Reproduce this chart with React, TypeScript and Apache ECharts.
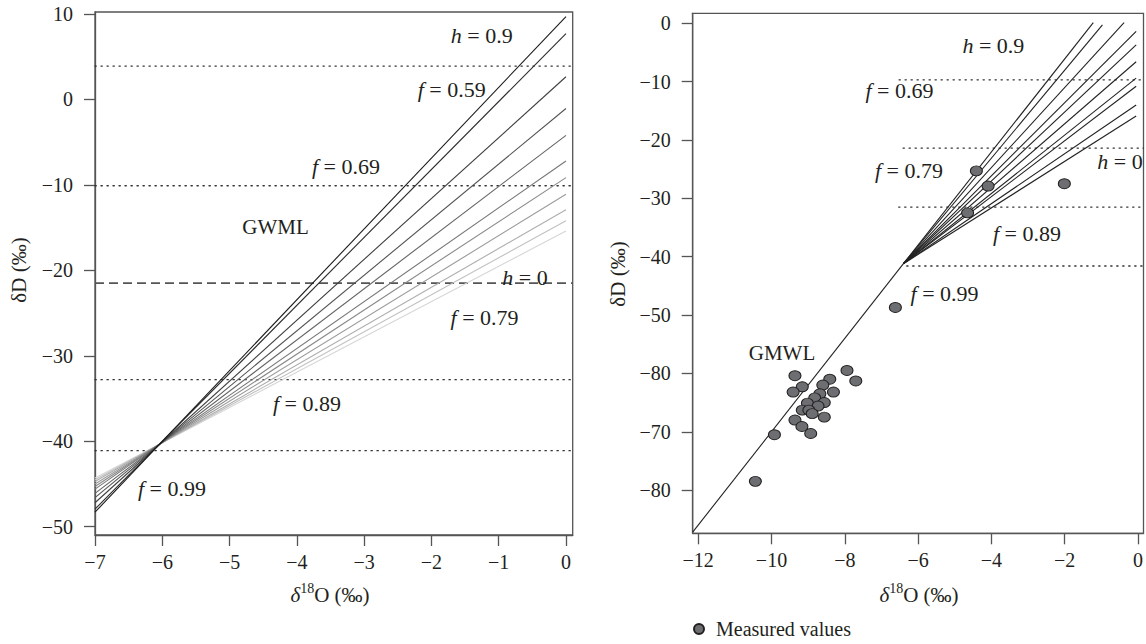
import React, { useEffect, useRef } from 'react';
import * as echarts from 'echarts';

const FONT = 'Liberation Serif, DejaVu Serif, serif';
const TEXT = '#231f20';
const AXIS = '#555';

// ---------- Left panel data ----------
const leftXTicks = [-7, -6, -5, -4, -3, -2, -1, 0];
const leftXTickLabels = ['−7', '−6', '−5', '−4', '−3', '−2', '−1', '0'];
const leftYTicks = [-50, -40, -30, -20, -10, 0, 10];
const leftYTickLabels = ['−50', '−40', '−30', '−20', '−10', '0', '10'];
const leftLineX = [-7, 0];
const leftLineStartY = [-48.3, -47.95, -47.2, -46.6, -46.1, -45.6, -45.3, -45.0, -44.7, -44.5, -44.3];
const leftLineEndY = [9.7, 7.7, 2.65, -1.06, -4.2, -7.2, -9.15, -11.1, -12.9, -14.2, -15.4];
const leftLineColors = ['#1a1a1a', '#2c2c2c', '#3f3f3f', '#525252', '#646464', '#767676', '#898989', '#9b9b9b', '#adadad', '#c1c1c1', '#d6d6d6'];
const leftDottedY = [3.9, -10.1, -32.8, -41.1];
const leftDashedY = -21.5;

// ---------- Right panel data ----------
const rightXTicks = [-12, -10, -8, -6, -4, -2, 0];
const rightXTickLabels = ['−12', '−10', '−8', '−6', '−4', '−2', '0'];
const rightYTicks = [0, -10, -20, -30, -40, -50, -60, -70, -80];
const rightYTickLabels = ['0', '−10', '−20', '−30', '−40', '−50', '−80', '−70', '−80'];
const gmwlX = [-12.15, -6.4];
const gmwlY = [-87.2, -41.2];
const fanPivot = [-6.4, -41.2];
const fanEndX = [-1.22, -0.97, -0.38, -0.05, -0.05, -0.05, -0.05, -0.05, -0.05, -0.05];
const fanEndY = [0.1, -0.3, 0.1, -1.4, -3.7, -6.6, -9.4, -10.8, -14.0, -15.9];
const rightDottedY = [-9.7, -21.4, -31.5, -41.6];
const rightDottedStartX = [-6.52, -6.41, -6.53, -6.31];
const rightDottedEndX = 0.15;
const measuredX = [-4.41, -4.09, -4.65, -2.01, -6.62, -9.36, -9.16, -9.41, -8.41, -7.94, -7.70, -8.60, -8.31, -8.68, -8.82, -9.02, -8.56, -8.73, -9.16, -8.98, -8.89, -8.56, -9.36, -9.17, -8.93, -9.92, -10.44];
const measuredY = [-25.3, -27.9, -32.5, -27.5, -48.7, -60.4, -62.3, -63.2, -61.0, -59.5, -61.3, -62.0, -63.2, -63.5, -64.2, -65.1, -65.0, -65.6, -66.3, -66.3, -66.9, -67.5, -68.0, -69.1, -70.3, -70.5, -78.5];

const ELLIPSE = 'path://M0,5A5,5,0,1,1,10,5A5,5,0,1,1,0,5Z';

function axisCommon(ticks: number[], labels: string[], pos: 'x' | 'y') {
  return {
    type: 'value',
    axisLine: { show: true, onZero: false, lineStyle: { color: AXIS, width: 1.3 } },
    axisTick: { show: true, length: 11, customValues: ticks, lineStyle: { color: AXIS, width: 1.3 } },
    axisLabel: {
      customValues: ticks,
      formatter: (v: number) => {
        const i = ticks.findIndex((t) => Math.abs(t - v) < 1e-6);
        return i >= 0 ? labels[i] : '';
      },
      fontFamily: FONT,
      fontSize: 20,
      color: TEXT,
      margin: pos === 'x' ? 17 : 22,
    },
    splitLine: { show: false },
  };
}

function annot(x: number, y: number, sym: string, rest: string) {
  return {
    type: 'text',
    x,
    y,
    z: 100,
    style: {
      text: `{i|${sym}} = ${rest}`,
      fontFamily: FONT,
      fontSize: 22,
      fill: TEXT,
      align: 'center',
      verticalAlign: 'middle',
      rich: {
        i: { fontStyle: 'italic', fontFamily: FONT, fontSize: 22, fill: TEXT },
      },
    },
  };
}

function plainText(x: number, y: number, text: string) {
  return {
    type: 'text',
    x,
    y,
    z: 100,
    style: { text, fontFamily: FONT, fontSize: 21, fill: TEXT, align: 'center', verticalAlign: 'middle' },
  };
}

function xTitle(x: number, y: number) {
  return {
    type: 'text',
    x,
    y,
    style: {
      text: '{i|δ}{s|18}{n|O (‰)}',
      fontFamily: FONT,
      fontSize: 21,
      fill: TEXT,
      align: 'center',
      verticalAlign: 'middle',
      rich: {
        i: { fontStyle: 'italic', fontFamily: FONT, fontSize: 21, fill: TEXT, lineHeight: 24, verticalAlign: 'bottom' },
        s: { fontFamily: FONT, fontSize: 14, fill: TEXT, lineHeight: 24, verticalAlign: 'top' },
        n: { fontFamily: FONT, fontSize: 21, fill: TEXT, lineHeight: 24, verticalAlign: 'bottom' },
      },
    },
  };
}

function yTitle(x: number, y: number) {
  return {
    type: 'text',
    x,
    y,
    rotation: Math.PI / 2,
    style: { text: 'δD (‰)', fontFamily: FONT, fontSize: 21, fill: TEXT, align: 'center', verticalAlign: 'middle' },
  };
}

export default function App() {
  const ref = useRef<HTMLDivElement>(null);

  useEffect(() => {
    if (!ref.current) return;
    const chart = echarts.init(ref.current, undefined, { renderer: 'svg' });

    const series: any[] = [];
    leftDottedY.forEach((y) => {
      series.push({
        type: 'line', xAxisIndex: 0, yAxisIndex: 0, symbol: 'none', silent: true,
        data: [[-7, y], [0.1, y]],
        lineStyle: { color: '#333', width: 1.3, type: [1.3, 4.7], cap: 'round' },
        z: 1,
      });
    });
    series.push({
      type: 'line', xAxisIndex: 0, yAxisIndex: 0, symbol: 'none', silent: true,
      data: [[-7, leftDashedY], [0.1, leftDashedY]],
      lineStyle: { color: '#555', width: 1.8, type: [9, 5] },
      z: 1,
    });
    for (let i = leftLineStartY.length - 1; i >= 0; i--) {
      series.push({
        type: 'line', xAxisIndex: 0, yAxisIndex: 0, symbol: 'none', silent: true,
        data: [[leftLineX[0], leftLineStartY[i]], [leftLineX[1], leftLineEndY[i]]],
        lineStyle: { color: leftLineColors[i], width: 1.1 },
        z: 2,
      });
    }
    rightDottedY.forEach((y, i) => {
      series.push({
        type: 'line', xAxisIndex: 1, yAxisIndex: 1, symbol: 'none', silent: true,
        data: [[rightDottedStartX[i], y], [rightDottedEndX, y]],
        lineStyle: { color: '#333', width: 1.3, type: [1.3, 4.7], cap: 'round' },
        z: 1,
      });
    });
    series.push({
      type: 'line', xAxisIndex: 1, yAxisIndex: 1, symbol: 'none', silent: true,
      data: [[gmwlX[0], gmwlY[0]], [gmwlX[1], gmwlY[1]]],
      lineStyle: { color: '#222', width: 1.1 },
      z: 2,
    });
    fanEndX.forEach((ex, i) => {
      series.push({
        type: 'line', xAxisIndex: 1, yAxisIndex: 1, symbol: 'none', silent: true,
        data: [[fanPivot[0], fanPivot[1]], [ex, fanEndY[i]]],
        lineStyle: { color: '#222', width: 1.1 },
        z: 2,
      });
    });
    series.push({
      name: 'Measured values',
      type: 'scatter', xAxisIndex: 1, yAxisIndex: 1,
      symbol: ELLIPSE, symbolSize: [12, 10],
      data: measuredX.map((x, i) => [x, measuredY[i]]),
      itemStyle: { color: '#6d6e71', borderColor: '#231f20', borderWidth: 1, opacity: 1 },
      z: 5,
    });

    chart.setOption({
      animation: false,
      backgroundColor: '#fff',
      textStyle: { fontFamily: FONT },
      grid: [
        { left: 95, top: 12, width: 477.7, height: 523, show: true, borderColor: AXIS, borderWidth: 1.3, backgroundColor: 'transparent' },
        { left: 692.7, top: 13.3, width: 454.4, height: 520, show: true, borderColor: AXIS, borderWidth: 1.3, backgroundColor: 'transparent' },
      ],
      xAxis: [
        { ...axisCommon(leftXTicks, leftXTickLabels, 'x'), gridIndex: 0, min: -7, max: 0.1 },
        { ...axisCommon(rightXTicks, rightXTickLabels, 'x'), gridIndex: 1, min: -12.15, max: 0.15 },
      ],
      yAxis: [
        { ...axisCommon(leftYTicks, leftYTickLabels, 'y'), gridIndex: 0, min: -50.97, max: 10.23 },
        { ...axisCommon(rightYTicks, rightYTickLabels, 'y'), gridIndex: 1, min: -87.4, max: 1.7 },
      ],
      legend: {
        data: [{ name: 'Measured values', icon: ELLIPSE }],
        left: 693, top: 619, padding: 0,
        itemWidth: 12, itemHeight: 10,
        textStyle: { fontFamily: FONT, fontSize: 20, color: TEXT, padding: [0, 0, 0, 6] },
        selectedMode: false,
      },
      graphic: [
        annot(481.7, 35, 'h', '0.9'),
        annot(451.7, 89, 'f', '0.59'),
        annot(346, 166, 'f', '0.69'),
        plainText(275.6, 227, 'GWML'),
        annot(525, 277, 'h', '0'),
        annot(484.6, 317, 'f', '0.79'),
        annot(307, 403, 'f', '0.89'),
        annot(172, 488, 'f', '0.99'),
        yTitle(18.5, 270),
        xTitle(330, 593),
        annot(993.4, 45, 'h', '0.9'),
        annot(899.5, 90.7, 'f', '0.69'),
        annot(909, 170, 'f', '0.79'),
        annot(1120, 161, 'h', '0'),
        annot(1027, 233.3, 'f', '0.89'),
        annot(944.6, 293.3, 'f', '0.99'),
        plainText(782, 352.7, 'GMWL'),
        yTitle(618, 274),
        xTitle(919, 593),
      ],
      series,
    });

    return () => chart.dispose();
  }, []);

  return (
    <div
      ref={ref}
      style={{ position: 'fixed', left: 0, top: 0, width: 1146, height: 644, background: '#fff' }}
    />
  );
}
